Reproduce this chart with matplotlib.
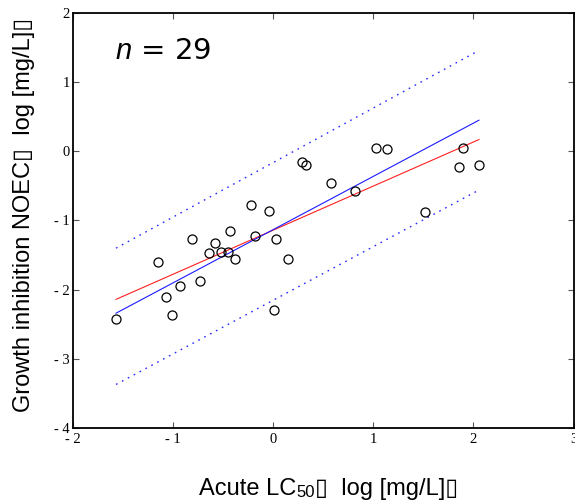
import matplotlib
matplotlib.use("Agg")
import matplotlib.pyplot as plt

# acute LC50 vs growth inhibition NOEC, both log [mg/L]
lc50 = [-1.567, -1.151, -1.065, -1.005, -0.928, -0.811, -0.729, -0.636, -0.579, -0.516,
        -0.449, -0.426, -0.379, -0.217, -0.180, -0.040, 0.007, 0.030, 0.147, 0.289,
        0.332, 0.576, 0.815, 1.031, 1.135, 1.520, 1.859, 1.893, 2.056]
noec = [-2.43, -1.60, -2.11, -2.37, -1.95, -1.27, -1.88, -1.47, -1.32, -1.46,
        -1.46, -1.15, -1.55, -0.77, -1.22, -0.87, -2.30, -1.27, -1.55, -0.15,
        -0.20, -0.46, -0.58, 0.05, 0.03, -0.88, -0.23, 0.05, -0.20]

# fitted lines (end points)
red_x = [-1.567, 2.056]
red_y = [-2.14, 0.17]
blue_x = [-1.567, 2.056]
blue_y = [-2.34, 0.45]
upper_x = [-1.567, 2.02]
upper_y = [-1.40, 1.43]
lower_x = [-1.567, 2.03]
lower_y = [-3.37, -0.58]

xticks = [-2, -1, 0, 1, 2, 3]
yticks = [-4, -3, -2, -1, 0, 1, 2]


def tick_text(v):
    return "- %d" % abs(v) if v < 0 else "%d" % v


plt.rcParams['mathtext.fontset'] = 'custom'
plt.rcParams['mathtext.rm'] = 'Liberation Sans'
plt.rcParams['mathtext.it'] = 'Liberation Sans:italic'

fig = plt.figure(figsize=(5.75, 5.03), dpi=100)
ax = fig.add_axes([0.1264, 0.1491, 0.871, 0.8251])

ax.plot(upper_x, upper_y, color='#2a2aff', lw=1.0, linestyle=(0, (1.2, 3.6)))
ax.plot(lower_x, lower_y, color='#2a2aff', lw=1.0, linestyle=(0, (1.2, 3.6)))
ax.plot(red_x, red_y, color='#ff2020', lw=0.8)
ax.plot(blue_x, blue_y, color='#1a1aff', lw=0.8)
ax.plot(lc50, noec, 'o', mfc='none', mec='black', ms=6.5, mew=0.9)

ax.set_xlim(-2, 3)
ax.set_ylim(-4, 2)
ax.set_xticks(xticks)
ax.set_xticklabels([tick_text(v) for v in xticks])
ax.set_yticks(yticks)
ax.set_yticklabels([tick_text(v) for v in yticks])
ax.tick_params(direction='in', length=4.5, width=0.8, color='#555555',
               top=True, right=True, labelsize=10.5)
ax.tick_params(axis='x', pad=3.5)
ax.tick_params(axis='y', pad=2)
for lab in ax.get_xticklabels() + ax.get_yticklabels():
    lab.set_fontfamily('Liberation Serif')
for sp in ax.spines.values():
    sp.set_linewidth(1.3)

fig.text(115 / 575, 1 - 59 / 503, r"$n$ = 29", fontsize=21,
         ha='left', va='baseline')

# x label built from pieces so that the subscript "50" has a proper size
fam = ['Liberation Sans', 'DejaVu Sans']
parts = [("Acute LC", 17, 0), ("50", 12, -2), ("\u25af  log [mg/L]\u25af", 17, 0)]
r = fig.canvas.get_renderer()
texts = []
for s, size, dy in parts:
    t = fig.text(0, 0, s, fontsize=size, ha='left', va='baseline', family=fam)
    texts.append(t)
widths = [t.get_window_extent(r).width for t in texts]
x = 328.5 - sum(widths) / 2
base = 503 - 495
for t, w, (s, size, dy) in zip(texts, widths, parts):
    t.set_position((x / 575, (base + dy) / 503))
    x += w

fig.text(24 / 575, 1 - 215 / 503, "Growth inhibition NOEC\u25af  log [mg/L]\u25af",
         fontsize=17, ha='center', va='center', rotation=90, family=fam)

fig.savefig('out.png', dpi=100)
